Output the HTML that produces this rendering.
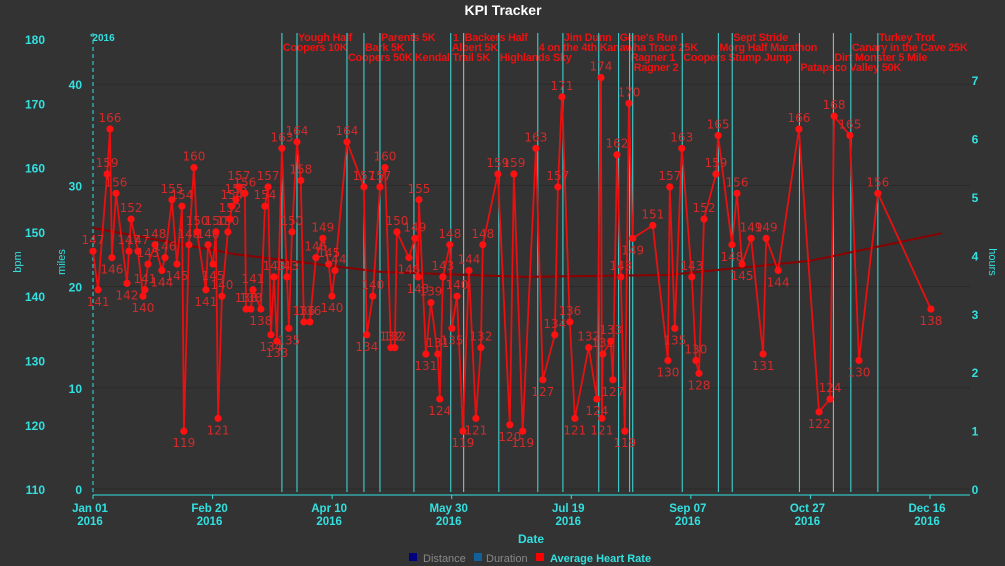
<!DOCTYPE html>
<html><head><meta charset="utf-8"><style>
html,body{margin:0;padding:0;background:#333333;}
svg{display:block;font-family:"Liberation Sans","DejaVu Sans",sans-serif;}
</style></head><body>
<svg id="chart" width="1005" height="566" viewBox="0 0 1005 566" xmlns="http://www.w3.org/2000/svg">
<rect x="0" y="0" width="1005" height="566" fill="#333333"/>
<text x="503" y="15" text-anchor="middle" fill="#ffffff" font-size="14" font-weight="bold">KPI Tracker</text>
<g id="grid"></g>
<g id="events"></g>
<g id="axes"></g>
<g id="trend"></g>
<g id="series"></g>
<text x="531" y="543" text-anchor="middle" fill="#33e0e0" font-size="12" font-weight="bold">Date</text>
<text transform="translate(21,262) rotate(-90)" text-anchor="middle" fill="#33e0e0" font-size="11">bpm</text>
<text transform="translate(65,262) rotate(-90)" text-anchor="middle" fill="#33e0e0" font-size="11">miles</text>
<text transform="translate(989,262) rotate(90)" text-anchor="middle" fill="#33e0e0" font-size="11">hours</text>
<g>
<g><rect x="409" y="553" width="8" height="8" fill="#000080"/><text x="423" y="562" fill="#888888" font-size="11">Distance</text></g>
<g><rect x="474" y="553" width="8" height="8" fill="#10609a"/><text x="486" y="562" fill="#888888" font-size="11">Duration</text></g>
<g><rect x="536" y="553" width="8" height="8" fill="#ff0000"/><text x="550" y="562" fill="#33e0e0" font-size="11" font-weight="bold">Average Heart Rate</text></g>
</g>
</svg>
<script>
// ---- data ----
const hrDays = [0,2.1,5.9,7.1,7.9,9.6,14.2,15,15.9,18.8,20.9,21.7,23,25.9,28.8,30.1,33,35.1,37.2,38,40.1,42.2,43.5,47.2,48.1,50.2,51.4,52.3,53.9,56.4,57.3,58.1,59.8,61,63.5,64,66,66.9,70.2,71.9,73.2,74.4,75.7,76.9,79,81.1,81.9,83.2,85.3,86.9,88.2,90.7,93.2,96.1,98.6,99.9,101.2,106.2,113.3,114.5,117,120,122.1,124.6,126.2,127.1,132.1,134.6,135.9,136.3,139.2,141.3,144.2,145,146.3,149.2,150.1,152.2,154.7,157.2,160.1,162.2,163,169.3,174.3,176,179.7,185.2,188.1,193.1,194.4,196.1,199.4,201.5,207.3,210.7,212.4,212.8,213.2,216.5,217.4,219.1,220.7,222.4,224.1,225.7,234.1,240.4,241.2,243.3,246.2,250.4,252.1,253.4,255.5,260.5,261.4,267.2,269.3,271.4,275.2,280.2,281.5,286.5,295.2,303.6,308.2,309.9,316.5,320.3,328.2,350.4];
const hrValues = [147,141,159,166,146,156,142,147,152,147,140,141,145,148,144,146,155,145,154,119,148,160,150,141,148,145,150,121,140,150,152,154,155,157,156,138,138,141,138,154,157,134,143,133,163,143,135,150,164,158,136,136,146,149,145,140,144,164,157,134,140,157,160,132,132,150,146,149,143,155,131,139,131,124,143,148,135,140,119,144,121,132,148,159,120,159,119,163,127,134,157,171,136,121,132,124,174,121,131,133,127,162,143,119,170,149,151,130,157,135,163,143,130,128,152,159,165,148,156,145,149,131,149,144,166,122,124,168,165,130,156,138];
const trendDays = [0,60,120,180,240,300,355];
const trendValues = [150.6,146.5,143.8,143.0,143.3,145.5,149.8];
const eventDays = [79,85.3,106.2,113.3,120,134.2,149.6,155,169.7,186,196.5,211.5,219.8,224.4,225.7,246.4,261.5,267.3,295.4,309.6,316.9,328.2];
const eventNames = ["Coopers 10K","Yough Half","Coopers 50K","Bark 5K","Parents 5K","Kendal Trail 5K","Albert 5K","Backers Half","Highlands Sky","4 on the 4th","Jim Dunn","Kanawha Trace 25K","Gene's Run","Ragner 1","Ragner 2","Coopers Stump Jump","Morg Half Marathon","Sept Stride","Patapsco Valley 50K","Dirt Monster 5 Mile","Canary in the Cave 25K","Turkey Trot"];
const eventRows = [2,1,3,2,1,3,2,1,3,2,1,2,1,3,4,3,2,1,4,3,2,1];
const bpmTicks = [110,120,130,140,150,160,170,180];
const mileTicks = [0,10,20,30,40];
const hourTicks = [0,1,2,3,4,5,6,7];
const xTickDays = [0,50,100,150,200,250,300,350];
const xTickLabels = ["Jan 01","Feb 20","Apr 10","May 30","Jul 19","Sep 07","Oct 27","Dec 16"];

// ---- scales ----
const X0=93, PXD=2.3914, Y_BOT=489;
const xs = d => X0 + d*PXD;
const yBpm = v => 39 + (180-v)*6.43;
const yMile = v => Y_BOT - v*10.12;
const yHour = v => Y_BOT - v*58.4;
const NS="http://www.w3.org/2000/svg";
function mk(tag, attrs, parent, txt){const e=document.createElementNS(NS,tag);for(const k in attrs)e.setAttribute(k,attrs[k]);if(txt!==undefined)e.textContent=txt;parent.appendChild(e);return e;}
const grid=document.getElementById('grid'), axes=document.getElementById('axes'), ev=document.getElementById('events'), tr=document.getElementById('trend'), sr=document.getElementById('series');
const CY="#33e0e0";

mileTicks.forEach(m=>{
  const y=yMile(m);
  const g=mk('line',{x1:93,x2:970,y1:y,y2:y,stroke:'#2a2a2a','stroke-width':1},grid);
  
  
  const t=mk('text',{x:82,y:y+5,'text-anchor':'end',fill:CY,'font-size':12,'font-weight':'bold'},axes,String(m));
  
  
});
bpmTicks.forEach(b=>{
  const t=mk('text',{x:45,y:yBpm(b)+5,'text-anchor':'end',fill:CY,'font-size':12,'font-weight':'bold'},axes,String(b));
  
  
});
hourTicks.forEach(h=>{
  const t=mk('text',{x:975,y:yHour(h)+5,'text-anchor':'middle',fill:CY,'font-size':12,'font-weight':'bold'},axes,String(h));
  
  
});
const xl=mk('line',{x1:93,x2:970,y1:495,y2:495,stroke:CY,'stroke-width':1},axes);


xTickDays.forEach((d,i)=>{
  const x=xs(d);
  mk('line',{x1:x,x2:x,y1:495,y2:499,stroke:CY},axes);
  const t=mk('text',{x:x-3,y:512,'text-anchor':'middle',fill:CY,'font-size':11.5,'font-weight':'bold'},axes,xTickLabels[i]);
  
  
  const t2=mk('text',{x:x-3,y:525,'text-anchor':'middle',fill:CY,'font-size':11.5,'font-weight':'bold'},axes,'2016');
  
  
});
const yl=mk('line',{x1:93,x2:93,y1:33,y2:495,stroke:CY,'stroke-dasharray':'4,3'},ev);


mk('text',{x:90,y:41,fill:CY,'font-size':10,'font-weight':'bold'},ev,"'2016");
mk('text',{x:453,y:41,fill:'#ee1111','font-size':10.5,'font-weight':'bold'},ev,"1");
eventDays.forEach((d,i)=>{
  const x=xs(d);
  const grey = (eventNames[i]==="Backers Half"||eventNames[i]==="Dirt Monster 5 Mile");
  const l=mk('line',{x1:x,x2:x,y1:33,y2:492,stroke:grey?'#bbbbbb':'#40e0e0','stroke-width':1},ev);
  
  
  const t=mk('text',{x:x+1,y:31+eventRows[i]*10,fill:'#ee1111','font-size':10.8,'font-weight':'bold','letter-spacing':'-0.2'},ev,eventNames[i]);
  
  
});
let tp=trendDays.map((d,i)=>xs(d).toFixed(1)+','+yBpm(trendValues[i]).toFixed(1));
const tl=mk('polyline',{points:tp.join(' '),fill:'none',stroke:'#8b0000','stroke-width':2},tr);


const pts=hrDays.map((d,i)=>xs(d).toFixed(1)+','+yBpm(hrValues[i]).toFixed(1));
const pl=mk('polyline',{points:pts.join(' '),fill:'none',stroke:'#e81010','stroke-width':1.8,'stroke-linejoin':'round'},sr);


hrDays.forEach((d,i)=>{
  const x=xs(d), y=yBpm(hrValues[i]);
  const c=mk('circle',{cx:x,cy:y,r:3.6,fill:'#ff1111'},sr);
  
  
  const prev=i>0?hrValues[i-1]:999, next=i<hrValues.length-1?hrValues[i+1]:999;
  const below = hrValues[i]<prev && hrValues[i]<next;
  const t=mk('text',{x:x,y:below?y+16:y-7,'text-anchor':'middle',fill:'#d42a2a','font-size':12,'font-family':'"DejaVu Sans",sans-serif'},sr,String(hrValues[i]));
  
  
});
</script>
</body></html>
